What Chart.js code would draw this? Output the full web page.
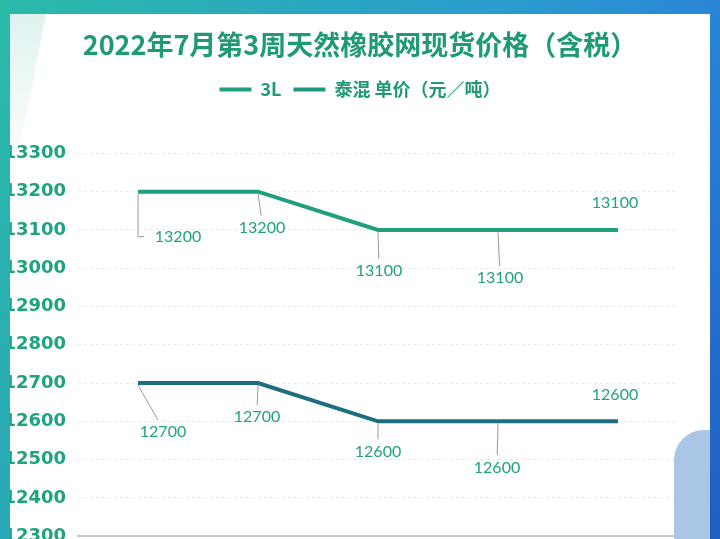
<!DOCTYPE html>
<html>
<head>
<meta charset="utf-8">
<script src="https://cdn.jsdelivr.net/npm/chart.js@4.4.0/dist/chart.umd.min.js"></script>
<style>
  html, body { margin: 0; padding: 0; background: #fff; }
  #wrap { position: relative; width: 720px; height: 539px; overflow: hidden; }
  canvas { position: absolute; left: 0; top: 0; }
  .deco { position: absolute; pointer-events: none; }
</style>
</head>
<body>
<div id="wrap">
  <canvas id="chart" width="720" height="559"></canvas>
  <!-- 边框装饰 -->
  <div class="deco" style="left:10px;top:14px;width:36px;height:130px;background:linear-gradient(180deg,rgba(140,210,200,0.28),rgba(180,225,220,0.08));clip-path:polygon(0 0,100% 0,30% 100%,0 100%);"></div>
  <div class="deco" style="left:674px;top:430px;width:40px;height:120px;background:#a9c6e6;border-radius:30px 0 0 0;"></div>
  <div class="deco" style="left:0;top:0;width:720px;height:14px;background:linear-gradient(90deg,#2bbaa8,#2a9ccf 70%,#2a86d6);"></div>
  <div class="deco" style="left:0;top:0;width:10px;height:539px;background:linear-gradient(180deg,#2bbaa8,#2aa8b8);"></div>
  <div class="deco" style="left:710px;top:0;width:10px;height:539px;background:linear-gradient(180deg,#2a86d6,#1f5fc2);"></div>
</div>
<script>
// 数据
const days = ['7月18日', '7月19日', '7月20日', '7月21日', '7月22日'];
const price3L = [13200, 13200, 13100, 13100, 13100];
const priceThai = [12700, 12700, 12600, 12600, 12600];
const yTicks = [12300, 12400, 12500, 12600, 12700, 12800, 12900, 13000, 13100, 13200, 13300];

// 标签偏移（dx, dy, 引线类型）
const labelOffsets = [
    [[40, 45, 'elbow'], [4, 36, 'line'], [1, 41, 'line'], [2, 48, 'line'], [-3, -27, null]],
    [[25, 49, 'line'], [-1, 34, 'line'], [0, 30, 'line'], [-1, 46, 'line'], [-3, -27, null]]
];

const green = '#1f9f7e';
const blue = '#1d6e80';
const textColor = '#1ea380';

// 数据标签插件
const pointLabels = {
    id: 'pointLabels',
    afterDatasetsDraw(chart) {
        const c = chart.ctx;
        c.save();
        chart.data.datasets.forEach((ds, di) => {
            const meta = chart.getDatasetMeta(di);
            meta.data.forEach((pt, i) => {
                const [dx, dy, kind] = labelOffsets[di][i];
                const tx = pt.x + dx;
                const ty = pt.y + dy;
                c.strokeStyle = '#9a9a9a';
                c.lineWidth = 1;
                if (kind === 'elbow') {
                    c.beginPath();
                    c.moveTo(pt.x, pt.y + 2);
                    c.lineTo(pt.x, ty);
                    c.lineTo(pt.x + 6, ty);
                    c.stroke();
                } else if (kind === 'line') {
                    c.beginPath();
                    c.moveTo(pt.x, pt.y + 2);
                    c.lineTo(pt.x + dx * 0.8, ty - 12);
                    c.stroke();
                }
                c.font = '16px Lato';
                c.fillStyle = textColor;
                c.textAlign = 'center';
                c.textBaseline = 'middle';
                c.fillText(String(ds.data[i]), tx, ty);
            });
        });
        c.restore();
    }
};

// 图例下方留白
const legendGap = {
    id: 'legendGap',
    beforeInit(chart) {
        const fit = chart.legend.fit;
        chart.legend.fit = function () {
            fit.bind(chart.legend)();
            this.height += 45;
        };
    }
};

new Chart(document.getElementById('chart').getContext('2d'), {
    type: 'line',
    data: {
        labels: days,
        datasets: [{
            label: '3L',
            data: price3L,
            borderColor: green,
            backgroundColor: green,
            borderWidth: 4,
            pointRadius: 0,
            tension: 0
        }, {
            label: '泰混 单价（元／吨）',
            data: priceThai,
            borderColor: blue,
            backgroundColor: '#1f957c',
            borderWidth: 4,
            pointRadius: 0,
            tension: 0
        }]
    },
    options: {
        responsive: false,
        animation: false,
        layout: { autoPadding: false, padding: { left: 0, right: 0, top: 0, bottom: 3 } },
        plugins: {
            title: {
                display: true,
                text: '2022年7月第3周天然橡胶网现货价格（含税）',
                color: '#1e9a76',
                font: { family: 'Noto Sans CJK SC', size: 27, weight: 'bold' },
                padding: { top: 29, bottom: 7 }
            },
            legend: {
                labels: {
                    color: '#1e9a76',
                    font: { family: 'Noto Sans CJK SC', size: 18, weight: 'bold' },
                    boxWidth: 32,
                    boxHeight: 4,
                    padding: 12,
                    generateLabels(chart) {
                        const items = Chart.defaults.plugins.legend.labels.generateLabels(chart);
                        items.forEach(it => { it.lineWidth = 0; });
                        return items;
                    }
                }
            },
            tooltip: { enabled: false }
        },
        scales: {
            x: {
                offset: true,
                afterFit(scale) { scale.height = 0; },
                ticks: { display: false },
                grid: { display: false },
                border: { display: true, color: '#c8c8c8', width: 2 }
            },
            y: {
                min: 12300,
                max: 13300,
                afterFit(scale) { scale.width = 78; },
                afterBuildTicks(scale) { scale.ticks = yTicks.map(v => ({ value: v })); },
                ticks: {
                    padding: 12,
                    color: textColor,
                    font: { family: 'DejaVu Sans', size: 18, weight: 'bold' },
                    callback: v => String(v)
                },
                grid: { color: 'rgba(0,0,0,0.09)', drawTicks: false },
                border: { display: false, dash: [3, 3] }
            },
            y2: {
                position: 'right',
                min: 12300,
                max: 13300,
                afterFit(scale) { scale.width = 42; },
                ticks: { display: false },
                grid: { display: false },
                border: { display: false }
            }
        }
    },
    plugins: [pointLabels, legendGap]
});
</script>
</body>
</html>
